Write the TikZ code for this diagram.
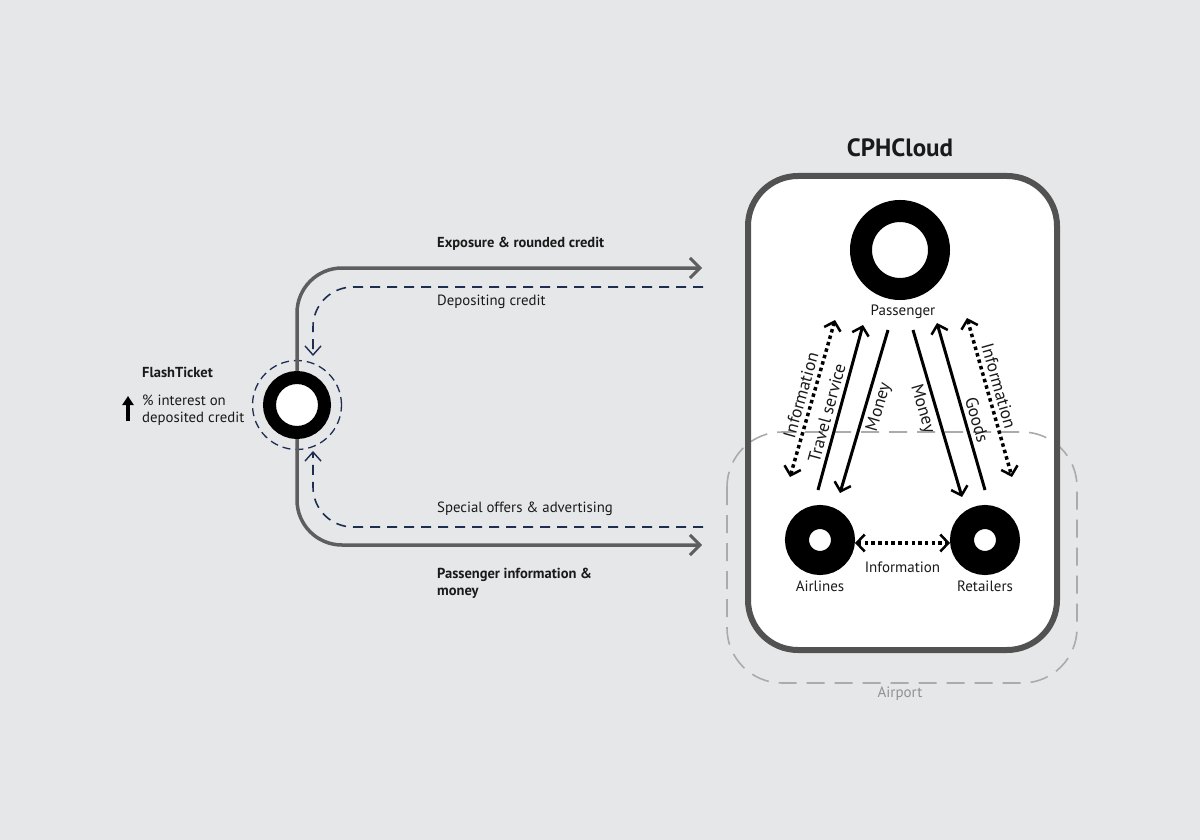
\documentclass[tikz,border=0pt]{standalone}
\usepackage{fontspec}
\setmainfont{PT Sans}
\usetikzlibrary{arrows.meta,positioning,calc}
\definecolor{bgGray}{HTML}{E6E7E9}
\definecolor{flowGray}{HTML}{5E5E5E}
\definecolor{boxGray}{HTML}{525252}
\definecolor{navyBlue}{HTML}{1E2D50}
\definecolor{airGray}{HTML}{ABABAB}
\definecolor{inkBlack}{HTML}{1A1A1A}
\begin{document}
\begin{tikzpicture}[x=1pt,y=-1pt,
    barb/.tip={Straight Barb[length=8pt,width=17pt,line width=2.5pt]},
    ring/.style={circle, draw=black, fill=white, inner sep=0pt},
    flow/.style={draw=flowGray, line width=3.5pt, rounded corners=45pt, -{Straight Barb[length=10pt,width=20pt,line width=3pt]}},
    backflow/.style={draw=navyBlue, line width=1.6pt, dash pattern=on 10pt off 7pt, rounded corners=40pt, -{Straight Barb[length=9pt,width=16pt,line width=1.4pt]}},
    solidarrow/.style={draw=black, line width=3pt, -barb},
    dotarrow/.style={draw=black, line width=3.5pt, dash pattern=on 3.5pt off 3.2pt, barb-barb},
    sidelbl/.style={font=\fontsize{14.8}{17}\selectfont, text=inkBlack, inner sep=0pt, align=left},
    smalllbl/.style={font=\fontsize{15}{17}\selectfont, text=inkBlack, inner sep=0pt},
    diaglbl/.style={font=\fontsize{17.5}{19}\selectfont, text=inkBlack, sloped, inner sep=4pt},
  ]
  \fill[bgGray] (0,0) rectangle (1200,840);
  \useasboundingbox (0,0) rectangle (1200,840);

  % CPHCloud box and airport zone
  \fill[white] (748,176) [rounded corners=50pt] rectangle (1057,650);
  \draw[airGray, line width=1.6pt, dash pattern=on 18pt off 10pt, rounded corners=55pt]
    (727,432) rectangle (1077,683);
  \draw[boxGray, line width=6pt, rounded corners=50pt] (748,176) rectangle (1057,650);
  \node[font=\fontsize{25}{27}\selectfont\bfseries, text=inkBlack] (cloud) at (900,148) {CPHCloud};
  \node[smalllbl, text=airGray!85!black, anchor=base] (airport) at (900,697) {Airport};

  % actors
  \node[ring, line width=22pt, minimum size=78pt] (passenger) at (900,250) {};
  \node[ring, line width=24pt, minimum size=46pt] (airlines) at (820,540) {};
  \node[ring, line width=24pt, minimum size=46pt] (retailers) at (985,540) {};
  \node[ring, line width=13pt, minimum size=55pt] (flash) at (297,405) {};
  \node[circle, draw=navyBlue, line width=1.3pt, dash pattern=on 8pt off 5pt, minimum size=89pt] (halo) at (flash) {};

  \node[smalllbl, below=5pt of passenger.south, xshift=3pt] (passlbl) {Passenger};
  \node[smalllbl, below=6pt of airlines.south] (airlbl) {Airlines};
  \node[smalllbl, below=6pt of retailers.south] (retlbl) {Retailers};

  % flows inside the cloud
  \draw[dotarrow] ([shift={(-30,-63)}]airlines.center) -- node[diaglbl, above] {Information}
    ([shift={(-65,70)}]passenger.center);
  \draw[solidarrow] ([shift={(-2,-50)}]airlines.center) -- node[diaglbl, above, pos=0.45] {Travel service}
    ([shift={(-37,75)}]passenger.center);
  \draw[solidarrow] ([shift={(-12,80)}]passenger.center) -- node[diaglbl, below, pos=0.45] {Money}
    ([shift={(20,-47)}]airlines.center);
  \draw[solidarrow] ([shift={(13,80)}]passenger.center) -- node[diaglbl, below, pos=0.45] {Money}
    ([shift={(-23,-43)}]retailers.center);
  \draw[solidarrow] ([shift={(0,-50)}]retailers.center) -- node[diaglbl, above, pos=0.4] {Goods}
    ([shift={(37,73)}]passenger.center);
  \draw[dotarrow] ([shift={(67,68)}]passenger.center) -- node[diaglbl, above, pos=0.45] {Information}
    ([shift={(27,-63)}]retailers.center);
  \draw[dotarrow] ([yshift=-3pt]airlines.east) -- node[smalllbl, below=17pt] {Information} ([yshift=-3pt]retailers.west);

  % flows between FlashTicket and CPHCloud
  \coordinate (expEnd) at (702,268);
  \coordinate (depStart) at (703,287);
  \coordinate (depEnd) at (313,356);
  \coordinate (spStart) at (703,527);
  \coordinate (spEnd) at (313,451);
  \coordinate (payEnd) at (702,545);
  \draw[flow] (flash.north) |- (expEnd);
  \draw[flow] (flash.south) |- (payEnd);
  \draw[backflow] (depStart) -| (depEnd);
  \draw[backflow] (spStart) -| (spEnd);

  \node[sidelbl, font=\fontsize{14.5}{17}\selectfont\bfseries, anchor=base west] (explbl) at (437,247) {Exposure \& rounded credit};
  \node[sidelbl, anchor=base west] (deplbl) at (437,305) {Depositing credit};
  \node[sidelbl, anchor=base west] (splbl) at (437,512) {Special offers \& advertising};
  \node[sidelbl, font=\fontsize{14.5}{17}\selectfont\bfseries, anchor=base west] (paylbl) at (437,578) {Passenger information \&};
  \node[sidelbl, font=\fontsize{14.5}{17}\selectfont\bfseries, anchor=base west] (paylbl2) at (437,595) {money};

  \node[sidelbl, font=\fontsize{14.5}{17}\selectfont\bfseries, anchor=base west] (flashlbl) at (142,377) {FlashTicket};
  \node[sidelbl, anchor=base west] (intlbl) at (142,405) {\% interest on};
  \node[sidelbl, anchor=base west] (intlbl2) at (142,422) {deposited credit};
  \coordinate (upFoot) at (128,421);
  \coordinate (upHead) at (128,396);
  \draw[line width=3.5pt, -{Triangle[length=9pt,width=11pt]}] (upFoot) -- (upHead);
\end{tikzpicture}
\end{document}
